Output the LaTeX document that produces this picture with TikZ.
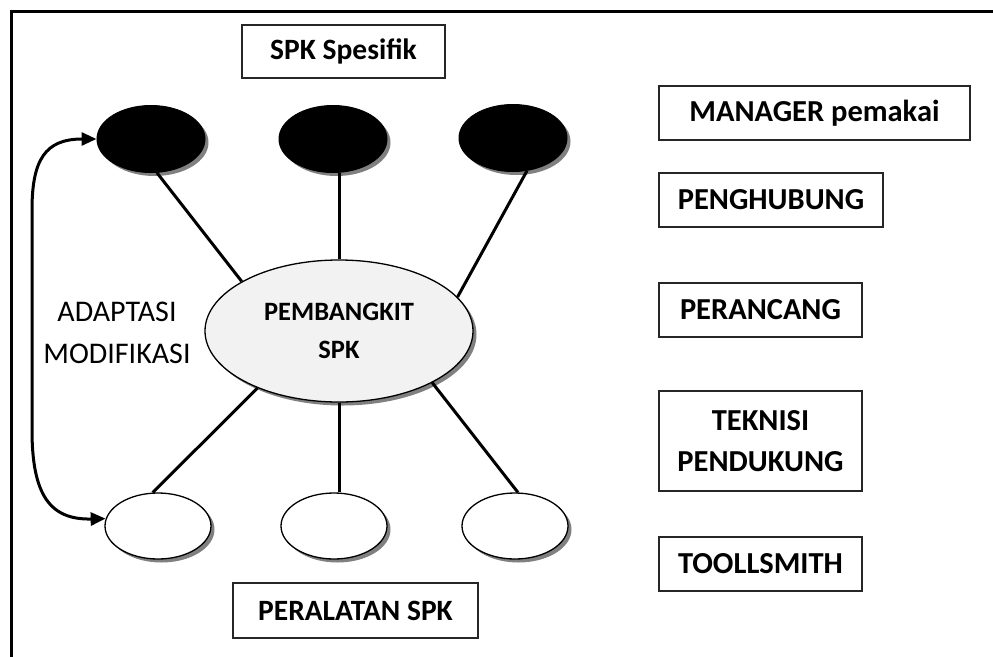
\documentclass[tikz,border=0pt]{standalone}
\usepackage{fontspec}
\setmainfont{Carlito}
\usetikzlibrary{shapes.geometric,shadows,arrows.meta}
\begin{document}
\begin{tikzpicture}[x=1pt,y=-1pt,
  shad/.style={drop shadow={shadow xshift=3.5pt,shadow yshift=-3.5pt,fill=black!50,opacity=1}},
  topell/.style={ellipse,draw=black,fill=black,line width=1pt,minimum width=108pt,minimum height=67pt,inner sep=0pt,shad},
  botell/.style={ellipse,draw=black,fill=white,line width=1.3pt,minimum width=106pt,minimum height=66pt,inner sep=0pt,shad},
  lbl/.style={draw=black!85,line width=1.4pt,inner sep=0pt,align=center,font=\bfseries\fontsize{29.5}{40}\selectfont},
  rbox/.style={draw=black!85,line width=1.4pt,inner sep=0pt,align=center,font=\bfseries\fontsize{30.5}{41}\selectfont,minimum height=54pt},
  conn/.style={line width=3pt}
]
\useasboundingbox (0,0) rectangle (993,656);
% frame
\coordinate (fbl) at (11.5,660);
\coordinate (ftl) at (11.5,11.5);
\coordinate (ftr) at (997,11.5);
\draw[line width=3pt] (fbl) -- (ftl) -- (ftr);

% ellipses
\node[topell] (t1) at (151,139) {};
\node[topell] (t2) at (333,139) {};
\node[topell] (t3) at (513,138) {};
\node[ellipse,draw=black,fill=black!5,line width=1.3pt,minimum width=268pt,minimum height=142pt,inner sep=0pt,shad,align=center,font=\bfseries\fontsize{26.5}{38}\selectfont] (c) at (339,331) {PEMBANGKIT\\[0pt]SPK};
\node[botell] (b1) at (158,526) {};
\node[botell] (b2) at (334,526) {};
\node[botell] (b3) at (515,526) {};

% connectors
\draw[conn] (t1.-80) -- (c.153);
\draw[conn] (c.north) -- (c.north |- t2.south);
\draw[conn] (t3.-67) -- (c.16);
\draw[conn] (c.215) -- (b1.99);
\draw[conn] (c.south) -- (c.south |- b2.north);
\draw[conn] (c.-29) -- (b3.85);

% adaptation arrow
\draw[line width=3pt,{Triangle[length=15pt,width=13pt]}-{Triangle[length=15pt,width=13pt]}]
  (t1.west) .. controls (45,139) and (32,160) .. (32,210) -- (32,430)
  .. controls (32,495) and (50,520) .. (b1.172);

\node[align=center,font=\fontsize{30}{42}\selectfont] (adapt) at (117,333) {ADAPTASI\\MODIFIKASI};

% labels
\node[lbl,minimum width=203pt,minimum height=53pt] (spk) at (343.5,51.5) {SPK Spesifik};
\node[lbl,minimum width=245pt,minimum height=55pt] (alat) at (355.5,610.5) {PERALATAN SPK};

\node[rbox,minimum width=311pt] (mgr) at (814.5,113) {MANAGER pemakai};
\node[rbox,minimum width=224pt] (hub) at (771,200) {PENGHUBUNG};
\node[rbox,minimum width=203pt] (ranc) at (760.5,310) {PERANCANG};
\node[rbox,minimum width=203pt,minimum height=100pt] (tek) at (760.5,441) {TEKNISI\\PENDUKUNG};
\node[rbox,minimum width=203pt] (tool) at (760.5,564) {TOOLLSMITH};
\end{tikzpicture}
\end{document}
